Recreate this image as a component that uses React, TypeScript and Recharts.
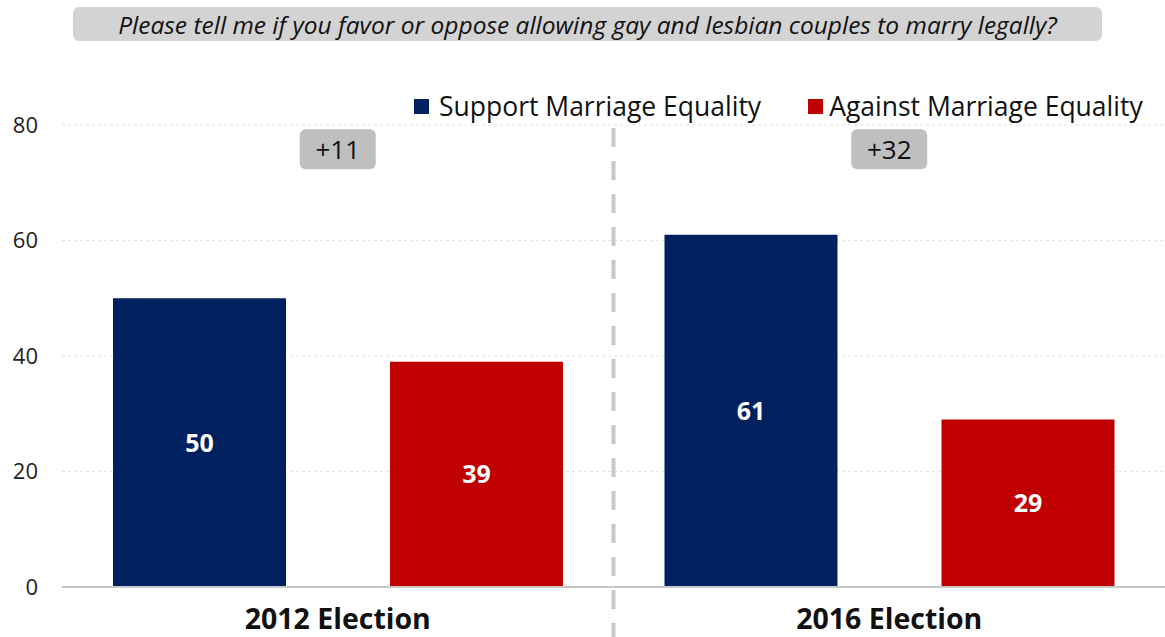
import { BarChart, Bar, XAxis, YAxis, CartesianGrid, Legend, LabelList, ReferenceLine, ReferenceDot } from 'recharts';

const categories = ['2012 Election', '2016 Election'];
const supportValues = [50, 61];
const againstValues = [39, 29];
const gapLabels = ['+11', '+32'];
const yTicks = [0, 20, 40, 60, 80];

const NAVY = '#002060';
const RED = '#C00000';
const FONT = '"Open Sans", sans-serif';

// pos = centre of each category on a 0..2 number scale, used for the divider between them
const data = categories.map((name, i) => ({
    name,
    pos: i + 0.5,
    support: supportValues[i],
    against: againstValues[i],
}));

const GapBox = (props: any) => {
    const { cx, cy, label } = props;
    return (
        <g>
            <rect x={cx - 38} y={cy - 20} width={76} height={40} rx={6} fill="#bfbfbf" />
            <text x={cx} y={cy} textAnchor="middle" dominantBaseline="central" fontSize={26} fill="#111" fontFamily={FONT}>
                {label}
            </text>
        </g>
    );
};

const LegendContent = () => (
    <div style={{ display: 'flex', alignItems: 'center', fontFamily: FONT, fontSize: 26.5, color: '#111', whiteSpace: 'nowrap' }}>
        <span style={{ width: 15, height: 15, background: NAVY, display: 'inline-block', marginRight: 10 }} />
        <span style={{ marginRight: 47 }}>Support Marriage Equality</span>
        <span style={{ width: 15, height: 15, background: RED, display: 'inline-block', marginRight: 6 }} />
        <span>Against Marriage Equality</span>
    </div>
);

const App = () => {
    return (
        <div style={{ position: 'absolute', left: 0, top: 0, width: 1165, height: 637, background: '#fff' }}>
            <div
                style={{
                    position: 'absolute', left: 73, top: 7, width: 1029, height: 34, background: '#d3d3d3',
                    borderRadius: 6, display: 'flex', alignItems: 'center', justifyContent: 'center',
                    fontFamily: FONT, fontStyle: 'italic', fontSize: 24.5, color: '#111', zIndex: 2,
                    whiteSpace: 'nowrap',
                }}
            >
                Please tell me if you favor or oppose allowing gay and lesbian couples to marry legally?
            </div>
            <BarChart
                width={1165}
                height={637}
                data={data}
                margin={{ top: 125, right: 0, bottom: 0, left: 0 }}
                barSize={173}
                barGap={104}
            >
                <CartesianGrid vertical={false} strokeDasharray="3 3" stroke="#e2e2e2" />
                <XAxis
                    dataKey="name"
                    height={50}
                    tickLine={false}
                    tickSize={0}
                    tickMargin={22}
                    axisLine={{ stroke: '#c8c8c8', strokeWidth: 2 }}
                    tick={{ fontSize: 28.5, fontWeight: 'bold', fill: '#111', fontFamily: FONT }}
                />
                <XAxis xAxisId="div" dataKey="pos" type="number" domain={[0, 2]} allowDataOverflow hide />
                <YAxis
                    width={62}
                    domain={[0, 80]}
                    ticks={yTicks}
                    axisLine={false}
                    tickLine={false}
                    tickSize={0}
                    tickMargin={24}
                    tick={{ fontSize: 22, fill: '#222', fontFamily: FONT }}
                />
                <Legend
                    verticalAlign="middle"
                    content={<LegendContent />}
                    wrapperStyle={{ position: 'absolute', top: 88, left: 414, width: 'auto' }}
                />
                <ReferenceLine
                    xAxisId="div"
                    segment={[{ x: 1, y: 79.5 }, { x: 1, y: -9 }]}
                    stroke="#c8c8c8"
                    strokeWidth={4}
                    strokeDasharray="19 14"
                    ifOverflow="visible"
                />
                <Bar dataKey="support" name="Support Marriage Equality" fill={NAVY} isAnimationActive={false}>
                    <LabelList dataKey="support" position="center" fill="#fff" fontSize={25} fontWeight="bold" fontFamily={FONT} />
                </Bar>
                <Bar dataKey="against" name="Against Marriage Equality" fill={RED} isAnimationActive={false}>
                    <LabelList dataKey="against" position="center" fill="#fff" fontSize={25} fontWeight="bold" fontFamily={FONT} />
                </Bar>
                {categories.map((c, i) => (
                    <ReferenceDot
                        key={c}
                        x={c}
                        y={75.8}
                        ifOverflow="visible"
                        shape={(p: any) => <GapBox {...p} label={gapLabels[i]} />}
                    />
                ))}
            </BarChart>
        </div>
    );
};

export default App;
